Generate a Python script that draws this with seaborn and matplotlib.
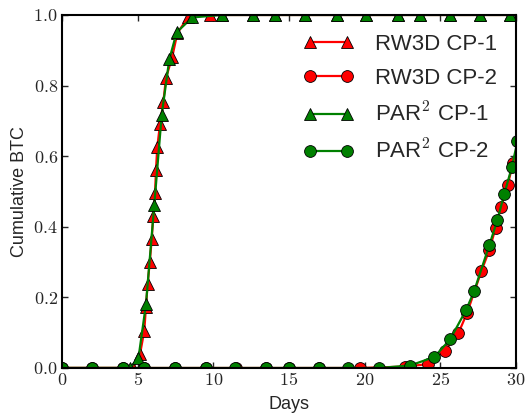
import matplotlib
matplotlib.use("Agg")
import matplotlib.pyplot as plt
from matplotlib.ticker import FuncFormatter
import numpy as np
import pandas as pd
import seaborn as sns

# breakthrough curves (days, cumulative fraction)
rw3d_cp1_days = [0.0, 4.7, 5.16, 5.44, 5.55, 5.66, 5.80, 5.93, 6.03, 6.15, 6.21, 6.30,
                 6.48, 6.70, 6.87, 7.29, 7.62, 8.33, 9.78, 10.55, 12.6, 14.08, 16.06,
                 18.15, 20.1, 22.2, 23.66, 25.64, 27.6, 29.6]
rw3d_cp1_btc = [0.0, 0.0, 0.04, 0.106, 0.174, 0.238, 0.300, 0.365, 0.431, 0.496, 0.561, 0.627,
                0.691, 0.754, 0.821, 0.882, 0.948, 0.994, 1.0, 1.0, 1.0, 1.0, 1.0,
                1.0, 1.0, 1.0, 1.0, 1.0, 1.0, 1.0]

rw3d_cp2_days = [0.0, 2.0, 4.0, 5.4, 7.5, 9.5, 11.5, 13.5, 15.0, 17.0, 19.7, 22.67, 24.2,
                 25.3, 26.19, 26.77, 27.72, 28.24, 28.65, 29.02, 29.45, 29.81, 30.2]
rw3d_cp2_btc = [0.0, 0.0, 0.0, 0.0, 0.0, 0.0, 0.0, 0.0, 0.0, 0.0, 0.0, 0.004, 0.011,
                0.049, 0.098, 0.156, 0.275, 0.334, 0.396, 0.457, 0.518, 0.581, 0.64]

par2_cp1_days = [0.0, 4.5, 5.05, 5.55, 6.10, 6.59, 7.09, 7.58, 8.61, 10.55, 12.6, 14.08,
                 16.06, 18.15, 20.1, 22.2, 23.66, 25.64, 27.6, 29.6]
par2_cp1_btc = [0.0, 0.0, 0.027, 0.181, 0.462, 0.717, 0.874, 0.951, 0.993, 1.0, 1.0, 1.0,
                1.0, 1.0, 1.0, 1.0, 1.0, 1.0, 1.0, 1.0]

par2_cp2_days = [0.0, 1.98, 4.0, 5.42, 7.47, 9.5, 11.45, 13.46, 14.98, 16.99, 18.92, 20.93,
                 23.0, 24.6, 25.65, 26.7, 27.23, 28.24, 28.77, 29.23, 29.72, 30.1]
par2_cp2_btc = [0.0, 0.0, 0.0, 0.0, 0.0, 0.0, 0.0, 0.0, 0.0, 0.0, 0.0, 0.0,
                0.007, 0.031, 0.081, 0.164, 0.217, 0.348, 0.419, 0.493, 0.568, 0.642]

sns.set_style("ticks")
plt.rcParams["font.family"] = ["Liberation Sans", "DejaVu Sans"]
plt.rcParams["mathtext.fontset"] = "cm"
plt.rcParams["legend.numpoints"] = 2

fig = plt.figure(figsize=(5.28, 4.16), dpi=100)
ax = fig.add_axes([0.1174, 0.1154, 0.8598, 0.8486])

series = [
    (rw3d_cp1_days, rw3d_cp1_btc, "RW3D CP-1", "red", "^"),
    (rw3d_cp2_days, rw3d_cp2_btc, "RW3D CP-2", "red", "o"),
    (par2_cp1_days, par2_cp1_btc, r"PAR$^2$ CP-1", "green", "^"),
    (par2_cp2_days, par2_cp2_btc, r"PAR$^2$ CP-2", "green", "o"),
]
for days, btc, name, col, mk in series:
    d = pd.DataFrame({"Days": days, "BTC": btc})
    sns.lineplot(data=d, x="Days", y="BTC", ax=ax, color=col, marker=mk,
                 markersize=8.5, markeredgecolor="black", markeredgewidth=0.6,
                 linewidth=1.6, label=name)

ax.set_xlim(0, 30)
ax.set_ylim(0, 1.0)
ax.set_xticks(np.arange(0, 31, 5))
ax.set_yticks(np.arange(0, 1.01, 0.2))
ax.xaxis.set_major_formatter(FuncFormatter(lambda v, p: r"$%d$" % v))
ax.yaxis.set_major_formatter(FuncFormatter(lambda v, p: r"$%.1f$" % v))
ax.tick_params(direction="in", top=True, right=True, length=4, width=1,
               labelsize=13, pad=3)
for s in ax.spines.values():
    s.set_linewidth(1.5)
    s.set_color("black")

ax.set_xlabel("Days", fontsize=13, labelpad=5)
ax.set_ylabel("Cumulative BTC", fontsize=13, labelpad=4)

ax.legend(loc="upper right", frameon=False, fontsize=16, handlelength=2.27,
          labelspacing=0.6, borderaxespad=0.45, handletextpad=0.95)

fig.savefig("out.png", dpi=100)
